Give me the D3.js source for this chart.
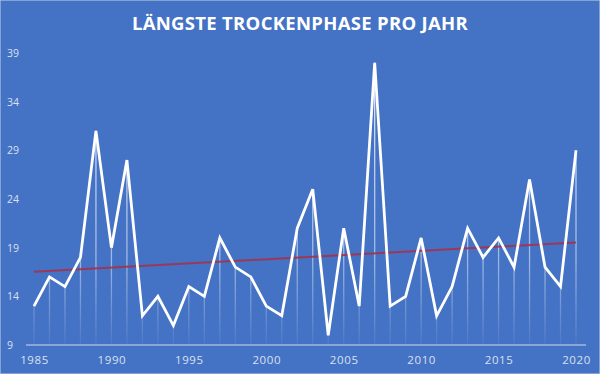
<!DOCTYPE html>
<html>
<head>
<meta charset="utf-8">
<script src="https://cdn.jsdelivr.net/npm/d3@7"></script>
<style>
  body { margin: 0; background: #4472c4; }
  text { font-family: "Open Sans", sans-serif; }
</style>
</head>
<body>
<div id="chart"></div>
<script>
// longest dry spell per year (days)
var years = d3.range(1985, 2021);
var values = [13, 16, 15, 18, 31, 19, 28, 12, 14, 11,
              15, 14, 20, 17, 16, 13, 12, 21, 25, 10,
              21, 13, 38, 13, 14, 20, 12, 15, 21, 18,
              20, 17, 26, 17, 15, 29];
var yTicks = [9, 14, 19, 24, 29, 34, 39];
var xTicks = [1985, 1990, 1995, 2000, 2005, 2010, 2015, 2020];
var title = "LÄNGSTE TROCKENPHASE PRO JAHR";

var width = 600, height = 374;
var margin = { top: 53, right: 24, bottom: 29, left: 34 };

var data = years.map(function (y, i) { return { year: y, value: values[i] }; });

var svg = d3.select("#chart")
  .append("svg")
  .attr("width", width)
  .attr("height", height);

svg.append("rect")
  .attr("width", width).attr("height", height)
  .attr("fill", "#4472c4")
  .attr("stroke", "#c9d3e8").attr("stroke-width", 1);

var x = d3.scaleLinear()
  .domain([1985, 2020])
  .range([margin.left, width - margin.right]);

var y = d3.scaleLinear()
  .domain([9, 39])
  .range([height - margin.bottom, margin.top]);

// gradient for the drop lines
var defs = svg.append("defs");
var grad = defs.append("linearGradient")
  .attr("id", "drop")
  .attr("gradientUnits", "userSpaceOnUse")
  .attr("x1", 0).attr("x2", 0)
  .attr("y1", y(39)).attr("y2", y(9));
grad.append("stop").attr("offset", "0%").attr("stop-color", "#fff").attr("stop-opacity", 0.9);
grad.append("stop").attr("offset", "70%").attr("stop-color", "#fff").attr("stop-opacity", 0.5);
grad.append("stop").attr("offset", "100%").attr("stop-color", "#fff").attr("stop-opacity", 0.05);

// title
svg.append("text")
  .attr("x", width / 2)
  .attr("y", 30)
  .attr("text-anchor", "middle")
  .attr("fill", "#ffffff")
  .attr("font-size", 18.5)
  .attr("font-weight", "bold")
  .attr("letter-spacing", 0.3)
  .text(title);

// y labels
svg.append("g").selectAll("text")
  .data(yTicks)
  .enter().append("text")
  .attr("x", 7)
  .attr("y", function (d) { return y(d) + 4; })
  .attr("fill", "#d9e1f2")
  .attr("font-size", 10.5)
  .text(function (d) { return d; });

// x axis
var xAxis = svg.append("g")
  .attr("transform", "translate(0," + y(9) + ")")
  .call(d3.axisBottom(x).tickValues(xTicks).tickFormat(d3.format("d")).tickSize(0).tickPadding(11));
xAxis.select(".domain").remove();
xAxis.selectAll("text")
  .attr("fill", "#d9e1f2")
  .attr("font-size", 11.5)
  .attr("font-family", "Open Sans, sans-serif")
  .attr("letter-spacing", 0.6);

svg.append("line")
  .attr("x1", 26).attr("x2", 586)
  .attr("y1", y(9)).attr("y2", y(9))
  .attr("stroke", "#d0d8ea").attr("stroke-width", 1);

// drop lines
svg.append("g").selectAll("line")
  .data(data)
  .enter().append("line")
  .attr("x1", function (d) { return x(d.year); })
  .attr("x2", function (d) { return x(d.year); })
  .attr("y1", function (d) { return y(d.value); })
  .attr("y2", y(9) - 1)
  .attr("stroke", "url(#drop)")
  .attr("stroke-width", 1.3);

// linear trend (least squares)
var mx = d3.mean(years), my = d3.mean(values);
var slope = d3.sum(years, function (yr, i) { return (yr - mx) * (values[i] - my); }) /
            d3.sum(years, function (yr) { return (yr - mx) * (yr - mx); });
var icpt = my - slope * mx;
svg.append("line")
  .attr("x1", x(1985)).attr("x2", x(2020))
  .attr("y1", y(icpt + slope * 1985))
  .attr("y2", y(icpt + slope * 2020))
  .attr("stroke", "#a5324a")
  .attr("stroke-opacity", 0.9)
  .attr("stroke-width", 2);

// main line
svg.append("path")
  .datum(data)
  .attr("fill", "none")
  .attr("stroke", "#ffffff")
  .attr("stroke-width", 2.8)
  .attr("stroke-linejoin", "miter")
  .attr("d", d3.line()
    .x(function (d) { return x(d.year); })
    .y(function (d) { return y(d.value); }));
</script>
</body>
</html>
